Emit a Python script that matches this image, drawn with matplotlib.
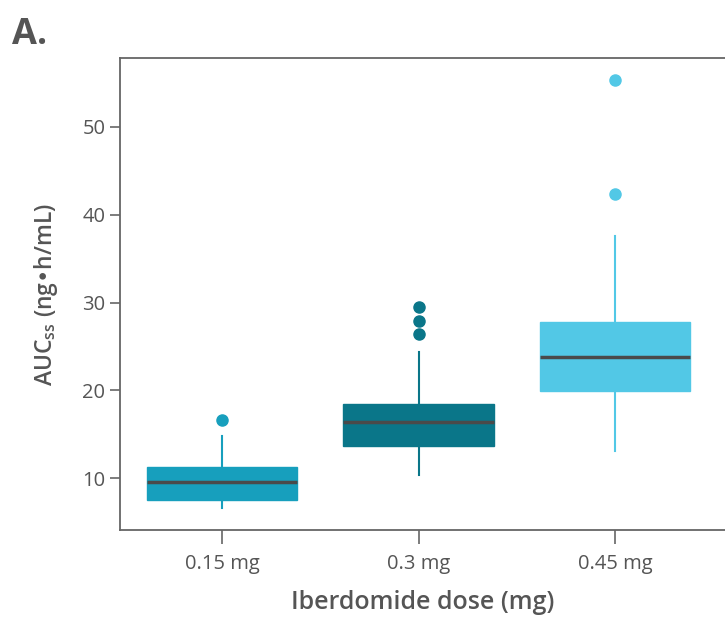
import matplotlib
matplotlib.use("Agg")
import matplotlib.pyplot as plt

plt.rcParams['font.family'] = ['Open Sans', 'DejaVu Sans']

doses = ["0.15 mg", "0.3 mg", "0.45 mg"]
q1 = [7.5, 13.6, 19.9]
median = [9.55, 16.4, 23.8]
q3 = [11.25, 18.45, 27.8]
whislo = [6.6, 10.3, 13.1]
whishi = [14.8, 24.35, 37.6]
fliers = [[16.6], [26.4, 27.9, 29.5], [42.4, 55.4]]
colors = ["#179fbd", "#0a7689", "#52c8e6"]

fig = plt.figure(figsize=(7.25, 6.19), dpi=100)
ax = fig.add_axes([120/725, 1-530/619, 605/725, (530-58)/619])

stats = []
for i, d in enumerate(doses):
    stats.append(dict(label=d, q1=q1[i], med=median[i], q3=q3[i],
                      whislo=whislo[i], whishi=whishi[i], fliers=fliers[i]))

positions = list(range(len(doses)))
bp = ax.bxp(stats, positions=positions, widths=0.765, patch_artist=True,
            showcaps=False)
for i, c in enumerate(colors):
    bp['boxes'][i].set(facecolor=c, edgecolor=c, linewidth=1)
    bp['medians'][i].set(color="#4a4a4a", linewidth=2.5)
    for w in bp['whiskers'][2*i:2*i+2]:
        w.set(color=c, linewidth=1.5)
    bp['fliers'][i].set(marker='o', markerfacecolor=c, markeredgecolor=c,
                        markersize=8)

ax.set_xlim(-0.52, 2.56)
ax.set_ylim(4.08, 57.86)
ax.set_yticks([10, 20, 30, 40, 50])
ax.set_xticks(positions)
ax.set_xticklabels(doses)

for s in ['left', 'bottom', 'top']:
    ax.spines[s].set_color('#666666')
    ax.spines[s].set_linewidth(1.3)
ax.spines['right'].set_visible(False)

ax.tick_params(axis='y', colors='#666666', labelcolor='#555555', labelsize=14.5,
               length=7, width=1.2)
ax.tick_params(axis='x', colors='#666666', labelcolor='#555555', labelsize=14.5,
               length=10, width=1.2, pad=7)

ax.set_ylabel("AUC$_{\\mathregular{ss}}$ (ng•h/mL)", fontsize=16.5, color='#555555',
              fontweight='semibold', labelpad=16)
ax.set_xlabel("Iberdomide dose (mg)", fontsize=18, color='#555555',
              fontweight='semibold', labelpad=12)

fig.text(12/725, 1-35/619, "A.", fontsize=26, fontweight='bold', color='#555555',
         va='center', ha='left')

fig.savefig("out.png", dpi=100)
